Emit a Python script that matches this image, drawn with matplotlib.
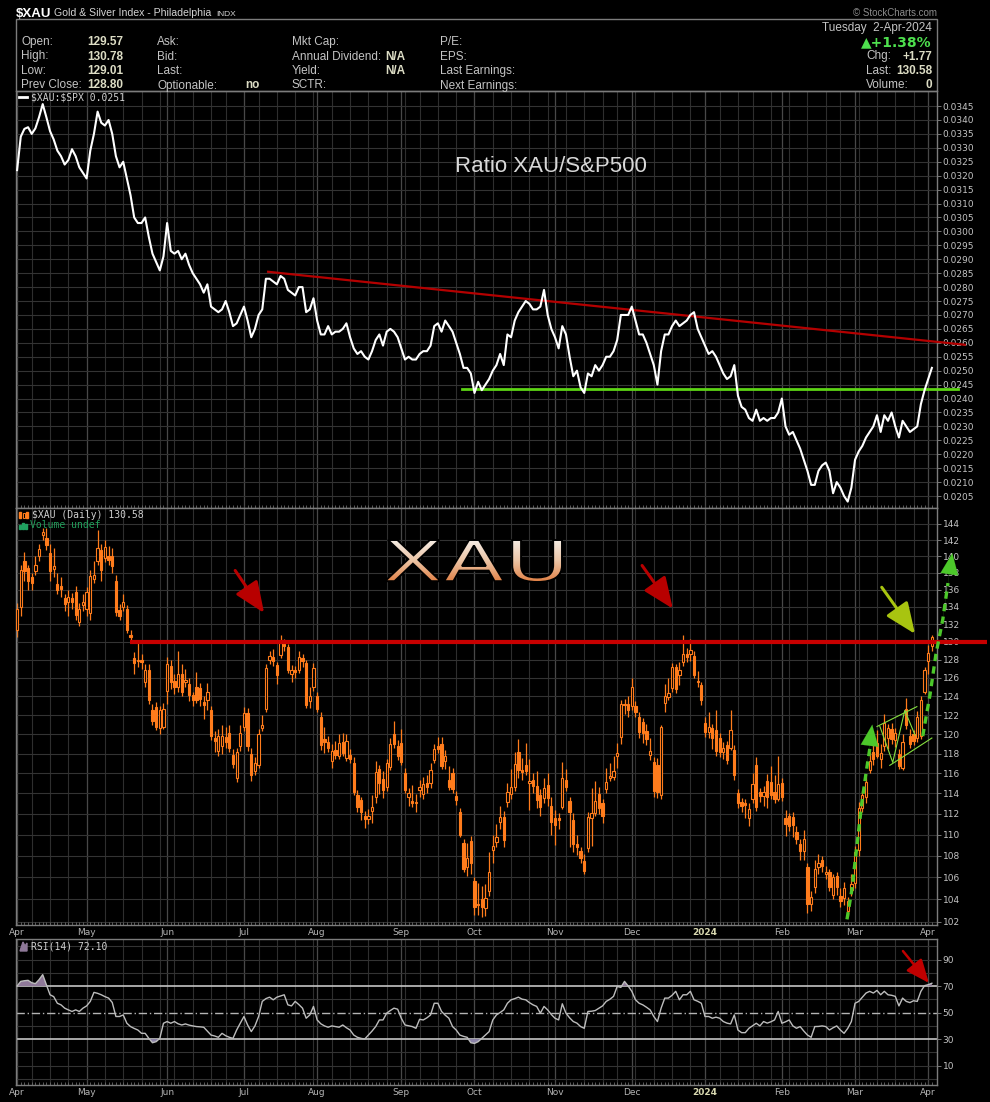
import numpy as np
import pandas as pd
import matplotlib
matplotlib.use("Agg")
import matplotlib.pyplot as plt
from matplotlib.patches import Rectangle, PathPatch
from matplotlib.textpath import TextPath
from matplotlib.font_manager import FontProperties
from matplotlib.transforms import Affine2D
from matplotlib.colors import LinearSegmentedColormap
from matplotlib.ticker import FixedLocator, FixedFormatter, NullLocator

W, H = 990, 1102

# trading calendar
holidays = ["2023-04-07", "2023-05-29", "2023-06-19", "2023-07-04", "2023-09-04",
            "2023-11-23", "2023-12-25", "2024-01-01", "2024-01-15", "2024-02-19", "2024-03-29"]
dates = pd.bdate_range("2023-04-03", "2024-04-02", freq="C", holidays=holidays)

# $XAU daily candles
opens = [
    131.3, 134.0, 139.4, 138.6, 137.5, 138.2, 140.1, 142.6, 142.2, 140.4,
    138.5, 136.7, 136.5, 135.0, 134.6, 135.0, 135.7, 132.3, 134.2, 133.8,
    133.3, 137.3, 139.4, 140.8, 139.8, 140.0, 140.1, 137.0, 133.6, 134.0,
    133.8, 130.8, 128.2, 127.9, 128.0, 125.6, 126.9, 122.5, 122.9, 120.6,
    120.8, 124.6, 127.3, 125.7, 125.0, 126.4, 125.6, 125.3, 124.1, 125.0,
    124.9, 123.4, 123.6, 122.5, 119.6, 118.3, 118.8, 119.7, 120.1, 117.9,
    115.5, 118.8, 120.8, 122.2, 118.0, 116.2, 116.8, 120.6, 122.6, 128.0,
    128.3, 127.4, 128.5, 129.8, 129.4, 126.4, 126.9, 126.9, 128.2, 127.6,
    123.5, 125.0, 124.0, 121.8, 119.5, 119.2, 117.2, 118.4, 117.8, 119.2,
    117.5, 117.9, 117.0, 113.8, 113.3, 111.8, 111.5, 112.3, 113.6, 116.4,
    115.4, 114.6, 116.6, 120.0, 118.8, 119.1, 116.0, 113.6, 113.2, 113.0,
    114.3, 113.9, 115.0, 115.0, 117.3, 118.8, 119.0, 117.2, 115.3, 116.0,
    113.7, 112.2, 109.2, 106.9, 109.4, 105.7, 103.6, 104.0, 103.2, 104.7,
    108.5, 109.3, 111.2, 111.7, 113.1, 113.9, 114.6, 118.2, 116.3, 116.8,
    115.0, 115.3, 114.7, 113.8, 113.5, 114.8, 112.8, 111.6, 111.6, 112.7,
    115.3, 113.2, 111.4, 109.1, 108.4, 107.5, 108.7, 111.6, 112.1, 113.9,
    113.0, 114.4, 115.5, 115.6, 117.7, 119.7, 123.2, 123.2, 123.0, 123.0,
    121.8, 121.3, 120.3, 117.9, 117.1, 116.8, 113.8, 123.3, 123.9, 124.9,
    127.2, 126.3, 127.7, 128.6, 128.6, 128.4, 125.5, 125.2, 121.2, 120.2,
    120.6, 120.4, 119.6, 118.2, 118.9, 118.6, 118.4, 114.0, 113.1, 113.0,
    111.6, 113.4, 116.8, 114.1, 113.7, 115.2, 115.1, 114.1, 113.4, 115.0,
    111.6, 111.8, 111.7, 110.2, 109.1, 108.4, 106.9, 103.6, 105.1, 106.9,
    107.6, 106.3, 106.5, 104.4, 106.1, 104.3, 104.1, 102.9, 104.8, 105.5,
    108.5, 112.6, 113.6, 116.3, 118.2, 119.1, 117.4, 118.8, 119.6, 120.5,
    119.4, 118.0, 116.5, 122.6, 119.8, 120.0, 119.6, 119.8, 124.5, 127.9,
    129.57]
highs = [
    134.5, 139.0, 140.5, 139.0, 138.0, 140.0, 141.5, 143.5, 143.5, 141.5,
    141.0, 138.0, 137.5, 135.5, 136.0, 135.6, 136.5, 134.5, 135.5, 136.3,
    138.3, 139.5, 143.3, 141.5, 142.0, 141.3, 141.0, 137.8, 134.3, 135.5,
    134.2, 131.3, 128.9, 130.0, 128.6, 127.5, 127.5, 123.2, 123.4, 123.0,
    123.3, 128.3, 128.0, 126.4, 129.0, 127.5, 127.0, 126.0, 124.5, 126.6,
    125.4, 124.0, 125.4, 123.0, 120.3, 120.5, 121.0, 120.7, 121.0, 118.5,
    118.6, 121.0, 122.9, 122.8, 118.6, 117.6, 120.5, 122.0, 127.5, 129.0,
    129.2, 127.8, 130.8, 130.3, 129.8, 127.4, 127.3, 129.0, 128.6, 128.0,
    125.0, 127.6, 124.5, 122.3, 120.8, 119.8, 119.0, 119.3, 120.0, 120.1,
    120.0, 118.5, 117.6, 114.3, 113.6, 112.3, 112.5, 113.8, 117.2, 116.8,
    116.2, 117.4, 119.6, 121.4, 119.4, 120.5, 116.5, 114.5, 114.8, 113.9,
    115.3, 115.6, 115.8, 117.0, 119.0, 119.7, 119.7, 118.4, 116.7, 116.5,
    114.2, 112.6, 109.6, 109.2, 109.9, 106.0, 105.5, 105.2, 105.4, 108.3,
    110.0, 111.0, 112.8, 112.3, 115.0, 116.4, 118.2, 119.5, 117.5, 119.1,
    117.4, 116.0, 116.2, 114.4, 115.5, 116.0, 113.6, 112.4, 112.1, 117.1,
    116.4, 113.6, 112.1, 110.0, 108.8, 108.2, 112.2, 114.5, 115.2, 114.6,
    113.4, 116.5, 117.0, 117.7, 119.1, 123.6, 123.7, 124.0, 126.0, 123.5,
    122.3, 121.7, 121.1, 119.6, 117.6, 117.5, 121.0, 125.3, 126.0, 127.6,
    127.5, 127.7, 130.8, 129.3, 130.3, 129.0, 126.8, 125.6, 121.8, 122.3,
    121.1, 122.5, 120.1, 119.2, 119.3, 122.5, 118.9, 114.4, 113.5, 113.4,
    113.0, 116.0, 117.6, 114.5, 114.7, 115.9, 116.7, 115.8, 117.7, 115.5,
    112.4, 112.1, 112.2, 110.8, 109.6, 110.4, 107.3, 104.7, 107.6, 108.2,
    108.0, 107.0, 106.8, 106.3, 106.5, 105.0, 105.6, 104.2, 106.3, 108.9,
    113.1, 114.2, 115.6, 118.2, 119.5, 120.4, 119.0, 122.1, 121.1, 121.2,
    120.6, 118.5, 120.0, 123.8, 120.5, 120.4, 122.4, 124.0, 127.2, 129.6,
    130.78]
lows = [
    130.5, 133.0, 137.0, 136.0, 136.0, 137.8, 139.5, 142.0, 140.8, 137.0,
    137.5, 135.5, 135.2, 133.5, 133.0, 133.8, 132.5, 131.8, 133.5, 133.0,
    132.5, 136.8, 139.0, 137.0, 139.3, 139.0, 138.0, 133.0, 132.5, 133.5,
    131.0, 130.0, 126.4, 127.2, 127.0, 125.0, 123.2, 121.0, 120.4, 120.0,
    120.5, 123.2, 124.8, 124.3, 124.5, 124.0, 125.0, 123.5, 123.0, 123.3,
    123.0, 121.6, 122.5, 119.4, 118.2, 117.8, 118.0, 118.6, 118.2, 116.5,
    115.1, 118.3, 120.3, 118.3, 115.2, 115.8, 116.5, 120.3, 122.3, 127.5,
    127.3, 125.3, 128.2, 129.0, 126.5, 125.6, 126.0, 126.5, 127.2, 122.8,
    122.8, 124.6, 122.3, 118.4, 118.1, 118.2, 116.5, 117.4, 117.4, 117.8,
    117.2, 117.0, 113.8, 112.2, 111.4, 110.6, 111.0, 111.1, 113.0, 113.9,
    113.5, 114.2, 116.3, 118.6, 117.3, 116.8, 114.0, 112.8, 112.7, 112.2,
    113.6, 113.4, 114.0, 114.5, 117.0, 118.1, 116.4, 116.4, 114.3, 114.0,
    112.9, 109.8, 106.5, 106.1, 106.3, 102.6, 102.6, 102.4, 102.5, 104.3,
    107.3, 108.8, 110.5, 108.8, 112.7, 113.4, 114.2, 115.5, 115.3, 115.8,
    112.4, 114.0, 112.6, 111.8, 113.0, 112.8, 110.0, 109.0, 110.5, 112.5,
    114.2, 108.8, 108.3, 108.1, 107.3, 106.3, 108.3, 108.9, 111.8, 112.0,
    111.1, 114.0, 115.2, 115.3, 116.5, 119.0, 122.1, 121.8, 122.5, 121.8,
    119.6, 119.1, 118.9, 117.3, 113.6, 113.5, 113.4, 122.3, 123.6, 124.5,
    124.4, 125.2, 127.3, 127.8, 127.9, 126.0, 125.0, 123.1, 119.7, 119.6,
    118.5, 117.8, 117.6, 117.4, 116.9, 118.4, 115.3, 112.6, 112.2, 111.6,
    110.8, 113.0, 112.3, 113.1, 112.8, 112.6, 113.4, 113.0, 113.2, 113.2,
    109.9, 110.3, 109.8, 109.1, 107.6, 107.6, 102.8, 102.9, 104.6, 106.3,
    106.5, 105.8, 104.7, 104.0, 104.4, 103.3, 103.5, 102.5, 104.3, 105.0,
    108.0, 112.2, 113.0, 116.0, 116.8, 117.5, 116.5, 118.3, 118.5, 119.0,
    118.7, 116.4, 116.3, 120.5, 118.6, 118.9, 119.2, 119.5, 124.3, 126.4,
    129.01]
closes = [
    133.8, 138.4, 138.2, 137.0, 136.8, 139.0, 140.9, 143.0, 141.4, 138.2,
    138.8, 136.0, 136.1, 134.3, 135.2, 134.6, 133.1, 133.7, 134.6, 135.7,
    137.6, 137.8, 141.0, 138.3, 141.2, 139.6, 138.8, 133.4, 132.9, 134.6,
    131.3, 130.5, 127.6, 128.0, 127.8, 126.9, 123.6, 121.4, 120.8, 122.5,
    122.7, 127.5, 125.5, 125.0, 126.4, 124.5, 125.8, 124.1, 123.6, 123.6,
    123.7, 123.1, 124.5, 119.8, 119.3, 119.8, 119.8, 119.2, 118.6, 116.9,
    118.2, 120.1, 122.2, 118.8, 115.8, 117.0, 120.0, 121.0, 127.1, 128.4,
    127.9, 126.3, 129.9, 129.5, 126.9, 126.9, 126.6, 128.3, 127.9, 123.1,
    124.0, 127.1, 122.6, 118.9, 119.2, 118.6, 118.3, 117.9, 119.1, 118.1,
    119.3, 117.4, 114.1, 112.7, 112.2, 111.5, 111.8, 112.7, 116.1, 115.0,
    114.3, 117.0, 119.0, 119.0, 117.7, 117.1, 114.3, 114.0, 113.0, 113.1,
    114.6, 114.9, 114.6, 116.3, 118.5, 118.5, 116.7, 117.8, 114.6, 114.4,
    113.3, 110.0, 106.8, 107.8, 107.3, 103.3, 103.5, 103.3, 104.1, 106.5,
    108.9, 109.8, 111.7, 109.5, 114.1, 114.6, 116.9, 116.3, 116.1, 116.2,
    115.2, 114.7, 113.3, 112.7, 114.5, 113.5, 111.2, 110.9, 111.4, 115.5,
    114.6, 112.2, 109.1, 108.8, 107.8, 106.6, 111.7, 112.1, 113.2, 112.6,
    111.8, 115.1, 115.7, 116.2, 118.1, 123.2, 123.1, 122.5, 125.0, 122.3,
    120.2, 120.1, 119.5, 118.3, 114.2, 114.1, 120.8, 124.0, 124.4, 127.2,
    124.8, 126.9, 128.6, 128.3, 129.1, 126.3, 125.7, 123.6, 120.2, 120.8,
    119.6, 118.3, 118.2, 118.6, 117.3, 120.4, 115.8, 113.0, 112.8, 112.9,
    112.5, 114.9, 112.7, 113.7, 114.1, 113.6, 113.8, 113.4, 114.9, 113.6,
    111.0, 110.8, 110.9, 109.6, 108.4, 109.6, 103.6, 104.2, 106.8, 107.3,
    107.0, 106.5, 105.1, 106.0, 105.1, 103.8, 105.0, 103.8, 105.4, 108.3,
    112.6, 113.8, 115.1, 117.2, 117.4, 117.8, 118.1, 121.2, 120.6, 119.5,
    120.1, 116.7, 119.2, 121.0, 119.0, 119.3, 121.8, 123.6, 126.9, 128.8,
    130.58]

# $XAU:$SPX ratio
ratio = [
    0.0322, 0.0334, 0.03368, 0.03374, 0.0335, 0.0337, 0.0341, 0.03457, 0.0341, 0.0336,
    0.0333, 0.0329, 0.0327, 0.0324, 0.03256, 0.03295, 0.0327, 0.0323, 0.0321, 0.0319,
    0.0329, 0.0335, 0.0343, 0.0339, 0.0338, 0.0340, 0.0335, 0.0327, 0.0323, 0.0325,
    0.0319, 0.0313, 0.0305, 0.0303, 0.0303, 0.0305, 0.0298, 0.0292, 0.0289, 0.0286,
    0.0291, 0.0303, 0.0293, 0.0292, 0.0293, 0.0290, 0.0292, 0.0288, 0.0285, 0.0283,
    0.0281, 0.0278, 0.0281, 0.0273, 0.0272, 0.0271, 0.0272, 0.0275, 0.0271, 0.0266,
    0.0267, 0.0270, 0.0273, 0.0268, 0.0262, 0.0265, 0.0270, 0.0272, 0.0283, 0.0283,
    0.0282, 0.0281, 0.0284, 0.0283, 0.0279, 0.0278, 0.0277, 0.0280, 0.0280, 0.0271,
    0.0272, 0.0276, 0.0268, 0.0263, 0.0263, 0.0266, 0.0263, 0.0264, 0.0264, 0.0265,
    0.0267, 0.0262, 0.0258, 0.0256, 0.0257, 0.0255, 0.0254, 0.0257, 0.0261, 0.0263,
    0.0259, 0.0264, 0.0265, 0.0264, 0.0262, 0.0258, 0.0254, 0.0255, 0.0254, 0.0254,
    0.0256, 0.0257, 0.0257, 0.0259, 0.0266, 0.0267, 0.0264, 0.0268, 0.0266, 0.0264,
    0.0260, 0.0256, 0.0251, 0.0251, 0.0249, 0.0242, 0.0246, 0.0243, 0.0245, 0.0247,
    0.0250, 0.0252, 0.0256, 0.0252, 0.0263, 0.0262, 0.0268, 0.0271, 0.0273, 0.0275,
    0.0274, 0.0272, 0.0272, 0.0273, 0.0279, 0.0270, 0.0265, 0.0262, 0.0258, 0.0266,
    0.0263, 0.0255, 0.0248, 0.0250, 0.0244, 0.0242, 0.0249, 0.0248, 0.0252, 0.0250,
    0.0252, 0.0255, 0.0255, 0.0257, 0.0261, 0.0270, 0.0270, 0.0270, 0.0273, 0.0268,
    0.0263, 0.0263, 0.0260, 0.0256, 0.0252, 0.0245, 0.0257, 0.0263, 0.0263, 0.0266,
    0.0268, 0.0266, 0.0267, 0.0268, 0.0270, 0.0271, 0.0265, 0.0262, 0.0259, 0.0256,
    0.0257, 0.0255, 0.0252, 0.0249, 0.0247, 0.0248, 0.0252, 0.0241, 0.0237, 0.0236,
    0.0233, 0.0232, 0.0236, 0.0232, 0.0233, 0.0232, 0.0233, 0.0233, 0.0235, 0.0240,
    0.0230, 0.0227, 0.0228, 0.0225, 0.0222, 0.0218, 0.0214, 0.0209, 0.0209, 0.0214,
    0.0216, 0.0217, 0.0214, 0.0206, 0.0210, 0.0208, 0.0205, 0.0203, 0.0208, 0.0218,
    0.0221, 0.0223, 0.0226, 0.0228, 0.0230, 0.0234, 0.0228, 0.0234, 0.0232, 0.0235,
    0.0230, 0.0226, 0.0232, 0.0230, 0.0228, 0.0229, 0.0230, 0.0238, 0.0243, 0.0247,
    0.0251]

# RSI(14)
rsi = [
    70.0, 73.5, 74.0, 74.3, 72.5, 71.8, 74.8, 78.6, 71.0, 63.4,
    62.0, 57.0, 55.8, 53.3, 52.0, 50.8, 52.0, 50.8, 53.3, 55.0,
    58.4, 65.2, 64.5, 63.4, 62.0, 60.9, 57.6, 47.0, 47.0, 48.2,
    41.9, 39.4, 38.0, 36.8, 34.3, 34.3, 30.5, 27.2, 28.0, 30.5,
    41.9, 43.2, 41.9, 43.2, 41.5, 40.6, 41.4, 40.5, 39.9, 39.4,
    39.2, 38.9, 36.0, 33.0, 32.3, 31.3, 34.3, 32.5, 31.3, 30.5,
    36.8, 42.0, 47.0, 40.6, 35.6, 39.9, 47.0, 58.4, 60.5, 61.6,
    59.6, 61.6, 62.5, 63.4, 55.8, 55.0, 58.4, 56.0, 53.3, 45.7,
    48.2, 54.6, 44.4, 41.5, 39.9, 38.9, 39.9, 39.4, 38.9, 40.6,
    38.5, 36.8, 33.0, 31.3, 30.5, 30.0, 33.0, 36.0, 39.4, 44.4,
    44.4, 49.5, 51.5, 53.3, 52.5, 45.7, 40.6, 40.0, 39.4, 38.1,
    44.9, 44.4, 46.0, 48.2, 57.0, 57.0, 50.8, 48.0, 45.7, 39.4,
    36.8, 33.0, 32.0, 31.3, 27.2, 26.7, 28.0, 30.5, 33.0, 35.6,
    44.4, 48.2, 50.0, 52.0, 57.0, 59.6, 60.5, 61.6, 60.1, 59.6,
    57.5, 55.8, 54.6, 49.5, 54.6, 52.0, 48.5, 45.7, 44.4, 56.6,
    49.5, 46.0, 43.2, 42.0, 39.4, 38.1, 50.8, 51.0, 51.5, 53.3,
    55.0, 58.4, 60.0, 62.2, 69.7, 69.0, 73.5, 70.0, 66.0, 59.6,
    57.0, 55.8, 54.0, 52.0, 47.0, 43.2, 53.3, 60.9, 60.9, 63.0,
    66.0, 59.6, 63.4, 63.4, 66.0, 59.6, 58.5, 57.0, 47.0, 47.0,
    45.7, 46.5, 45.7, 43.2, 42.0, 41.4, 48.2, 36.8, 34.8, 34.8,
    38.1, 40.0, 41.9, 39.9, 43.2, 42.0, 43.0, 44.4, 50.8, 41.9,
    43.0, 44.4, 39.9, 38.1, 39.4, 36.0, 33.0, 31.3, 39.4, 39.5,
    39.9, 39.4, 36.8, 38.5, 39.9, 36.8, 34.3, 38.0, 43.2, 57.0,
    58.4, 61.5, 64.7, 66.0, 64.7, 66.7, 63.4, 66.0, 63.4, 63.0,
    62.2, 55.0, 60.9, 58.4, 57.5, 58.9, 58.4, 66.0, 70.3, 71.0,
    72.1]

month_labels = ["Apr", "May", "Jun", "Jul", "Aug", "Sep", "Oct", "Nov", "Dec",
                "2024", "Feb", "Mar", "Apr"]
ratio_ticks = np.round(np.arange(0.0205, 0.03451, 0.0005), 4)
price_ticks = list(range(102, 146, 2))
rsi_ticks = [10, 30, 50, 70, 90]

# annotations drawn on the chart (day index, value)
ratio_res_x, ratio_res_y = [68.6, 259.0], [0.02855, 0.02593]
ratio_sup_x, ratio_sup_y = [121.6, 257.1], [0.02434, 0.02434]
price_res_x, price_res_y = [30.9, 265.0], [130.0, 130.0]
rally1_x = [226.8, 228.1, 229.5, 230.9, 232.2, 233.4]
rally1_y = [102.2, 104.8, 108.9, 113.2, 116.5, 119.4]
rally2_x = [247.5, 249.5, 251.1, 253.0, 254.4]
rally2_y = [119.8, 124.2, 128.6, 132.6, 136.8]
flag_up_x, flag_up_y = [235.0, 245.9], [120.8, 122.9]
flag_lo_x, flag_lo_y = [238.5, 250.0], [116.8, 119.6]
zigzag_x = [235.8, 239.3, 242.6, 245.4]
zigzag_y = [120.8, 117.1, 122.5, 119.9]

n = len(closes)
x = np.arange(n)
o, h, l, c = map(np.array, (opens, highs, lows, closes))
h = np.maximum(h, np.maximum(o, c))
l = np.minimum(l, np.minimum(o, c))
rsi_a = np.array(rsi)

month_starts = [i for i in range(len(dates)) if i == 0 or dates[i].month != dates[i - 1].month]
week_starts = [i for i in range(len(dates)) if i == 0 or dates[i].weekday() < dates[i - 1].weekday()]

plt.rcParams["font.family"] = "DejaVu Sans"
plt.rcParams["text.parse_math"] = False
fig = plt.figure(figsize=(W / 100, H / 100), dpi=100, facecolor="black")


def rect(x0, y0, x1, y1):
    return [x0 / W, 1 - y1 / H, (x1 - x0) / W, (y1 - y0) / H]


ax_r = fig.add_axes(rect(16, 91, 937, 508))
ax_p = fig.add_axes(rect(16, 508, 937, 925))
ax_s = fig.add_axes(rect(16, 939, 937, 1085))

XMIN, XMAX = -0.3, 251.4


def style(ax):
    ax.set_facecolor("black")
    for s in ax.spines.values():
        s.set_color("#7c7c7c")
        s.set_linewidth(1)
    ax.set_xlim(XMIN, XMAX)
    ax.yaxis.tick_right()
    ax.tick_params(axis="y", colors="#8a8a8a", labelcolor="#c4c4c4", labelsize=6.5,
                   length=3, pad=1, direction="out", width=0.6)
    for i in week_starts:
        ax.axvline(i, color="#2e2e2e", lw=0.8, zorder=0)
    for i in month_starts:
        ax.axvline(i, color="#484848", lw=0.9, zorder=0)
    ax.set_xticks(month_starts)
    ax.set_xticks(x, minor=True)
    ax.tick_params(axis="x", which="major", length=0, pad=2, labelsize=6.5,
                   labelcolor="#b4b4b4")
    ax.tick_params(axis="x", which="minor", direction="in", length=2, color="#6a6a6a",
                   width=0.6)


for ax in (ax_r, ax_p, ax_s):
    style(ax)

# ---- ratio panel ----
ax_r.set_ylim(0.02007, 0.03504)
ax_r.set_yticks(ratio_ticks)
ax_r.set_yticklabels([f"{v:.4f}" for v in ratio_ticks])
for v in ratio_ticks:
    ax_r.axhline(v, color="#333333", lw=0.8, zorder=0)
ax_r.set_xticklabels([])
ax_r.plot(ratio_res_x, ratio_res_y, color="#b40000", lw=1.6, zorder=3, clip_on=False)
ax_r.plot(ratio_sup_x, ratio_sup_y, color="#5cd414", lw=2, zorder=3, clip_on=False)
ax_r.plot(x, ratio, color="white", lw=1.5, zorder=4)
ax_r.text(0.477, 0.806, "Ratio XAU/S&P500", transform=ax_r.transAxes, color="#d8d8d8",
          fontsize=16, family="Liberation Sans", va="baseline", ha="left")

# ---- price panel ----
ax_p.set_yscale("log")
ax_p.set_ylim(101.7, 146.0)
ax_p.yaxis.set_major_locator(FixedLocator(price_ticks))
ax_p.yaxis.set_major_formatter(FixedFormatter([str(t) for t in price_ticks]))
ax_p.yaxis.set_minor_locator(NullLocator())
for v in price_ticks:
    ax_p.axhline(v, color="#333333", lw=0.8, zorder=0)
ax_p.set_xticklabels(month_labels)

candle = "#ff7c1c"
ax_p.vlines(x, l, h, color=candle, lw=0.9, zorder=2)
up = c >= o
body_w = 0.62
ax_p.bar(x[up], np.maximum(c[up] - o[up], 0.08), bottom=o[up], width=body_w,
         facecolor="black", edgecolor=candle, linewidth=0.8, zorder=3)
ax_p.bar(x[~up], np.maximum(o[~up] - c[~up], 0.08), bottom=c[~up], width=body_w,
         facecolor=candle, edgecolor=candle, linewidth=0.8, zorder=3)

ax_p.plot(price_res_x, price_res_y, color="#c80000", lw=3, zorder=5, clip_on=False,
          solid_capstyle="butt")
ax_p.plot(flag_up_x, flag_up_y, color="#86e040", lw=0.8, zorder=6)
ax_p.plot(flag_lo_x, flag_lo_y, color="#86e040", lw=0.8, zorder=6)
ax_p.plot(zigzag_x, zigzag_y, color="#86e040", lw=0.8, zorder=6)
ax_p.plot(rally1_x, rally1_y, color="#4cc82a", lw=2.4, ls=(0, (2.2, 1.6)), zorder=6)
ax_p.plot(rally2_x, rally2_y, color="#4cc82a", lw=2.4, ls=(0, (2.2, 1.6)), zorder=6,
          clip_on=False)


def arrow(ax, tail, tip, color, scale=20, lw=2.2):
    ax.annotate("", xy=tip, xytext=tail, xycoords="data", textcoords="data",
                arrowprops=dict(arrowstyle="-|>,head_length=0.95,head_width=0.4",
                                color=color, lw=lw, mutation_scale=scale,
                                shrinkA=0, shrinkB=0),
                annotation_clip=False, zorder=8)


arrow(ax_p, (59.6, 138.3), (67.5, 133.3), "#b80000")
arrow(ax_p, (170.8, 138.9), (179.2, 133.8), "#b80000")
arrow(ax_p, (236.3, 136.3), (245.4, 130.9), "#a8c410")
arrow(ax_p, (rally1_x[-2], rally1_y[-2]), (233.7, 121.0), "#4cc82a", scale=16, lw=0.1)
arrow(ax_p, (rally2_x[-2], rally2_y[-2]), (255.6, 140.4), "#4cc82a", scale=16, lw=0.1)

# ---- RSI panel ----
ax_s.set_ylim(-4.7, 105.5)
ax_s.set_yticks(rsi_ticks)
for v in range(0, 101, 10):
    if v not in (30, 50, 70):
        ax_s.axhline(v, color="#333333", lw=0.8, zorder=0)
ax_s.axhline(70, color="#c4c4c4", lw=1.2, zorder=2)
ax_s.axhline(30, color="#c4c4c4", lw=1.2, zorder=2)
ax_s.axhline(50, color="#b4b4b4", lw=1.0, ls=(0, (6, 2, 1, 2)), zorder=2)
ax_s.fill_between(x, rsi_a, 70, where=rsi_a >= 70, interpolate=True, color="#8e7898",
                  zorder=3, lw=0)
ax_s.fill_between(x, rsi_a, 30, where=rsi_a <= 30, interpolate=True, color="#8a82a6",
                  zorder=3, lw=0)
ax_s.plot(x, rsi_a, color="#bdbdbd", lw=1, zorder=4)
ax_s.set_xticklabels(month_labels)
arrow(ax_s, (242.1, 96.4), (249.2, 72.3), "#c00000", scale=15, lw=1.8)

for ax in (ax_p, ax_s):
    for t in ax.get_xticklabels():
        if t.get_text() == "2024":
            t.set_fontweight("bold")
            t.set_color("#d8d8b0")

# ---- overlay: header, legends, big title ----
ov = fig.add_axes([0, 0, 1, 1], zorder=10)
ov.set_xlim(0, W)
ov.set_ylim(H, 0)
ov.axis("off")

ov.add_patch(Rectangle((16, 19), 921, 72, fill=False, edgecolor="#7c7c7c", lw=1))
hf = "Liberation Sans"
lab = "#c4c4c4"
val = "#dcdcc4"
ov.text(16, 17, "$XAU", color="white", fontsize=9.5, fontweight="bold", family=hf)
ov.text(54, 16.5, "Gold & Silver Index - Philadelphia", color="#d4d4d4", fontsize=7.6,
        family=hf)
ov.text(216, 16.5, "INDX", color="#d4d4d4", fontsize=6, family=hf)
ov.text(937, 16, "\u00a9 StockCharts.com", color="#8c8c8c", fontsize=7, family=hf,
        ha="right")

rows = [45, 59.5, 74, 88.5]
col1 = [("Open:", "129.57"), ("High:", "130.78"), ("Low:", "129.01"), ("Prev Close:", "128.80")]
for (a, b), y in zip(col1, rows):
    ov.text(21, y, a, color=lab, fontsize=8.5, family=hf)
    ov.text(87, y, b, color=val, fontsize=8.5, family=hf, fontweight="bold")
for a, y in zip(["Ask:", "Bid:", "Last:", "Optionable:"], rows):
    ov.text(157, y, a, color=lab, fontsize=8.5, family=hf)
ov.text(245, rows[3], "no", color=val, fontsize=8.5, family=hf, fontweight="bold")
for a, y in zip(["Mkt Cap:", "Annual Dividend:", "Yield:", "SCTR:"], rows):
    ov.text(292, y, a, color=lab, fontsize=8.5, family=hf)
ov.text(405, rows[1], "N/A", color=val, fontsize=8.5, family=hf, fontweight="bold", ha="right")
ov.text(405, rows[2], "N/A", color=val, fontsize=8.5, family=hf, fontweight="bold", ha="right")
for a, y in zip(["P/E:", "EPS:", "Last Earnings:", "Next Earnings:"], rows):
    ov.text(440, y, a, color=lab, fontsize=8.5, family=hf)

ov.text(932, 31, "Tuesday  2-Apr-2024", color=lab, fontsize=8.5, family=hf, ha="right")
ov.text(932, 46, "\u25b2+1.38%", color="#4ee04e", fontsize=10, family="DejaVu Sans",
        fontweight="bold", ha="right")
for (a, b), y in zip([("Chg:", "+1.77"), ("Last:", "130.58"), ("Volume:", "0")], rows[1:]):
    ov.text(866, y, a, color=lab, fontsize=8.5, family=hf)
    ov.text(932, y, b, color=val, fontsize=8.5, family=hf, fontweight="bold", ha="right")

mono = "DejaVu Sans Mono"
ov.plot([19, 27], [97, 97], color="white", lw=2)
ov.text(31, 97.5, "$XAU:$SPX 0.0251", color="#cfcfcf", fontsize=7, family=mono, va="center")
ov.add_patch(Rectangle((19, 512), 2, 6, color=candle))
ov.add_patch(Rectangle((23, 513), 2, 5, fill=False, edgecolor=candle, lw=0.7))
ov.add_patch(Rectangle((26, 512), 2, 6, color=candle))
ov.text(32, 515.5, "$XAU (Daily) 130.58", color="#cfcfcf", fontsize=7, family=mono,
        va="center")
for k, hh in enumerate([4, 6, 5]):
    ov.add_patch(Rectangle((19 + k * 3, 529 - hh), 2, hh, color="#20a060"))
ov.text(30, 525.5, "Volume undef", color="#22a05c", fontsize=7, family=mono, va="center")
ov.fill([20, 23, 25, 27, 27, 20], [951, 942, 946, 943, 951, 951], color="#8e7898")
ov.text(31, 946.5, "RSI(14) 72.10", color="#cfcfcf", fontsize=7, family=mono, va="center")

# big gradient "XAU"
tp = TextPath((0, 0), "XAU", size=58, prop=FontProperties(family="DejaVu Sans"))
bb = tp.get_extents()
tr = (Affine2D().translate(-bb.x0, -bb.y0)
      .scale(177 / bb.width, -42 / bb.height).translate(385, 582))
xau_path = tr.transform_path(tp)
xau_patch = PathPatch(xau_path, facecolor="none", edgecolor="none")
ov.add_patch(xau_patch)
cmap = LinearSegmentedColormap.from_list("xau", ["#f6f0ea", "#ecc4a4", "#e07a3c"])
grad = np.linspace(0, 1, 64).reshape(-1, 1)
im = ov.imshow(grad, extent=(380, 570, 584, 538), cmap=cmap, aspect="auto", zorder=6)
im.set_clip_path(xau_patch)
# thin the strokes a little by eroding the outline with the background colour
ov.add_patch(PathPatch(xau_path, facecolor="none", edgecolor="black", lw=1.4, zorder=7))
ov.set_xlim(0, W)
ov.set_ylim(H, 0)

fig.savefig("out.png", dpi=100, facecolor="black")
